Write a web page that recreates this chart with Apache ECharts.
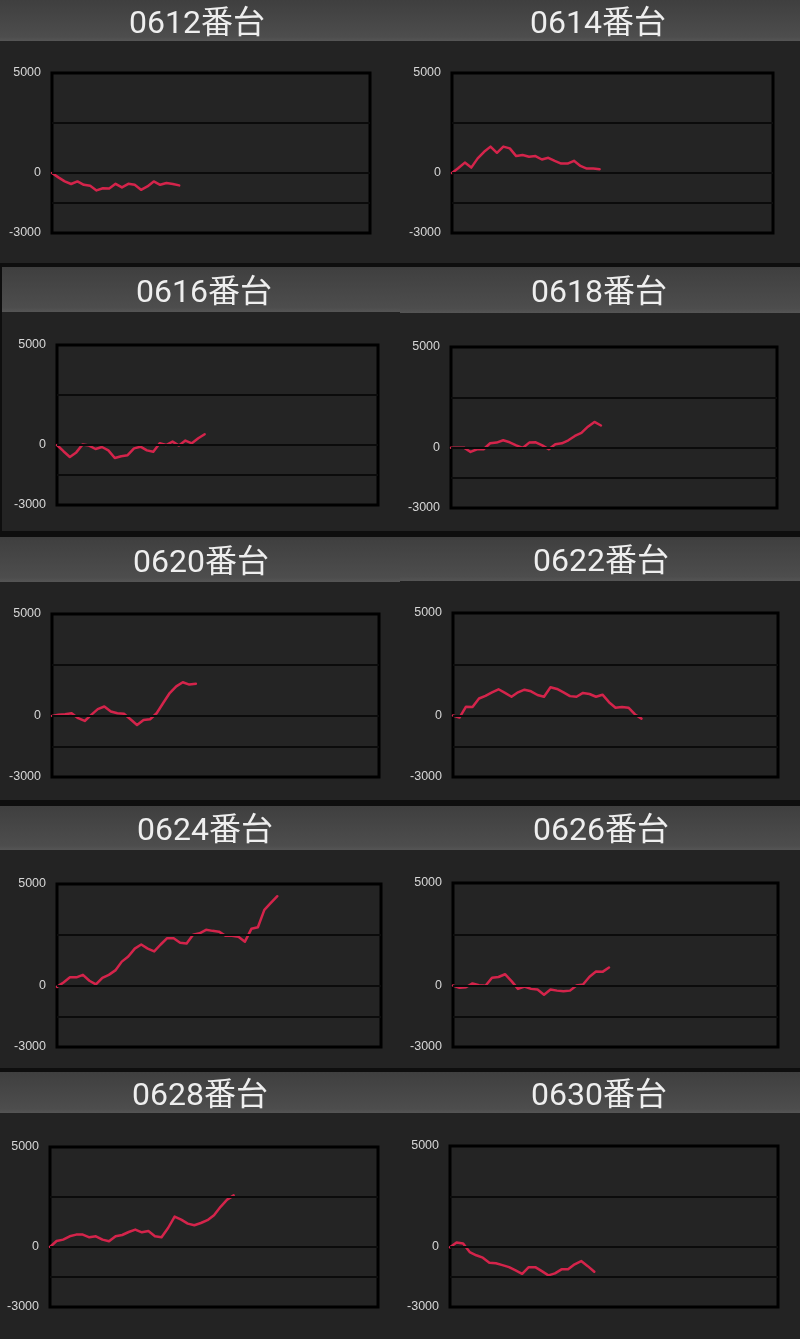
<!DOCTYPE html>
<html>
<head>
<meta charset="utf-8">
<script src="https://cdn.jsdelivr.net/npm/echarts@6/dist/echarts.min.js"></script>
<style>
html,body{margin:0;padding:0;background:#0e0e0e;}
#chart{width:800px;height:1339px;}
</style>
</head>
<body>
<div id="chart"></div>
<script>
// ---- data ----
const titles = ['0612番台','0614番台','0616番台','0618番台','0620番台','0622番台','0624番台','0626番台','0628番台','0630番台'];
const s0612 = [0,-220,-420,-550,-420,-590,-640,-870,-760,-770,-540,-720,-540,-590,-840,-670,-420,-590,-500,-550,-620];
const s0614 = [0,250,520,270,730,1060,1320,1010,1320,1230,845,900,810,845,675,760,610,470,470,610,355,220,230,190];
const s0616 = [0,-310,-600,-370,30,-30,-200,-100,-270,-650,-560,-510,-170,-85,-270,-340,85,0,170,-30,220,85,340,540];
const s0618 = [0,0,0,-215,-80,-80,215,250,365,265,115,-15,250,265,115,-80,165,215,365,580,730,1040,1275,1100];
const s0620 = [0,50,80,130,-115,-250,50,330,460,215,130,100,-165,-445,-200,-165,130,630,1120,1450,1650,1535,1580];
const s0622 = [0,-100,430,415,830,960,1130,1280,1100,915,1130,1260,1180,1000,915,1380,1295,1130,945,915,1100,1050,915,1015,650,380,420,380,50,-150];
const s0624 = [-50,170,420,420,540,250,70,390,540,760,1190,1440,1830,2030,1830,1690,2030,2340,2340,2120,2080,2510,2580,2750,2700,2660,2460,2460,2410,2170,2800,2880,3730,4070,4400];
const s0626 = [0,-115,-85,100,15,-15,380,415,550,215,-165,-50,-165,-200,-450,-200,-250,-280,-250,0,50,430,680,665,880];
const s0628 = [0,300,370,535,620,620,485,535,370,285,535,600,750,870,735,800,535,485,950,1520,1370,1170,1090,1200,1340,1590,2010,2370,2580];
const s0630 = [-30,200,150,-270,-430,-550,-800,-830,-920,-1020,-1180,-1350,-1020,-1020,-1220,-1430,-1330,-1130,-1130,-880,-720,-970,-1250];
const seriesValues = [s0612,s0614,s0616,s0618,s0620,s0622,s0624,s0626,s0628,s0630];
const yTickLabels = [5000, 0, -3000];
const gridLineValues = [2500, 0, -1500];
const yMin = -3000, yMax = 5000, xSlots = 50;

// ---- layout (pixels) ----
const layout = [
  {panel:[0,0,400,263],     bar:[0,41],      plot:[52,73,370,233],    cx:197},
  {panel:[400,0,800,263],   bar:[0,41],      plot:[452,73,773,233],   cx:598},
  {panel:[2,267,400,531],   bar:[267,312],   plot:[57,345,378,505],   cx:204},
  {panel:[400,267,800,531], bar:[267,313],   plot:[451,347,777,508],  cx:599},
  {panel:[0,537,400,800],   bar:[537,582],   plot:[52,614,379,777],   cx:201},
  {panel:[400,537,800,800], bar:[537,581],   plot:[453,613,778,777],  cx:601},
  {panel:[0,806,400,1068],  bar:[806,850],   plot:[57,884,381,1047],  cx:205},
  {panel:[400,806,800,1068],bar:[806,850],   plot:[453,883,778,1047], cx:601},
  {panel:[0,1072,400,1339], bar:[1072,1113], plot:[50,1147,378,1307], cx:200},
  {panel:[400,1072,800,1339],bar:[1072,1113],plot:[450,1146,778,1307],cx:599}
];

const chart = echarts.init(document.getElementById('chart'), null, {renderer:'canvas'});
const grids = [], xAxes = [], yAxes = [], series = [], graphics = [];

layout.forEach((L, i) => {
  const [px0, py0, px1, py1] = L.panel;
  graphics.push({type:'rect', z:-10, silent:true,
    shape:{x:px0, y:py0, width:px1-px0, height:py1-py0},
    style:{fill:'#232323'}});
  graphics.push({type:'rect', z:-9, silent:true,
    shape:{x:px0, y:L.bar[0], width:px1-px0, height:L.bar[1]-L.bar[0]},
    style:{fill:new echarts.graphic.LinearGradient(0,0,0,1,[
      {offset:0,color:'#3f3f3f'},{offset:0.9,color:'#4d4d4d'},{offset:1,color:'#555555'}])}});
  graphics.push({type:'text', z:5, silent:true,
    x:L.cx, y:(L.bar[0]+L.bar[1])/2 + 4,
    style:{text:titles[i], fill:'#eeeeee', font:'32px Roboto, "Noto Sans CJK JP"', align:'center', verticalAlign:'middle'}});

  const [l, t, r, b] = L.plot;
  grids.push({left:l, top:t, width:r-l, height:b-t, show:true,
    borderColor:'#000', borderWidth:3, backgroundColor:'#242424', containLabel:false});
  xAxes.push({type:'value', gridIndex:i, min:0, max:xSlots, show:false});
  yAxes.push({type:'value', gridIndex:i, min:yMin, max:yMax, interval:1000,
    axisLine:{show:false}, axisTick:{show:false}, splitLine:{show:false},
    axisLabel:{show:true, margin:11, color:'#d6d6d6', fontSize:12.5,
      fontFamily:'Liberation Sans',
      formatter:v => yTickLabels.includes(v) ? String(v) : ''}});
  series.push({type:'line', xAxisIndex:i, yAxisIndex:i, data:[], z:2, silent:true,
    markLine:{silent:true, symbol:'none', animation:false, label:{show:false},
      lineStyle:{color:'#0b0b0b', width:2, type:'solid'},
      data:gridLineValues.map(v => ({yAxis:v}))}});
  series.push({type:'line', xAxisIndex:i, yAxisIndex:i, z:3,
    data:seriesValues[i].map((v, k) => [k, v]),
    showSymbol:false, smooth:false, silent:true,
    lineStyle:{color:'#d4244b', width:2.5, join:'round', cap:'round'}});
});

chart.setOption({
  backgroundColor:'#0e0e0e',
  animation:false,
  grid:grids, xAxis:xAxes, yAxis:yAxes, series:series,
  graphic:graphics
});
</script>
</body>
</html>
